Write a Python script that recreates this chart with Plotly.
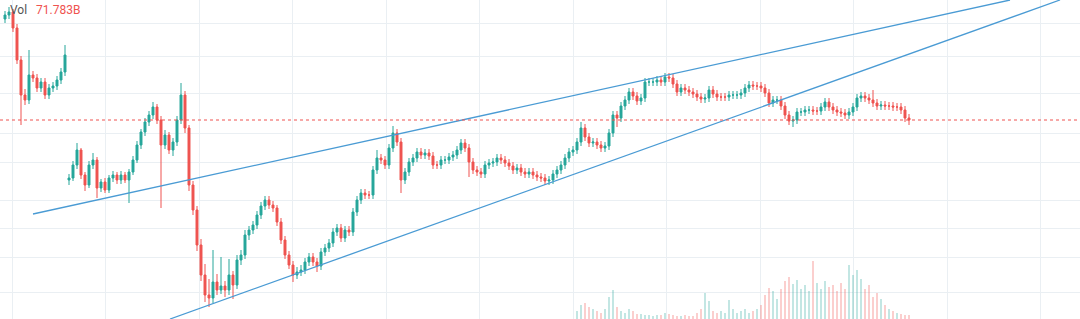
import plotly.graph_objects as go

# ---------------- data ----------------
# closes of every bar (arbitrary price units), bar index 0..226
seg1_close = [304, 307, 291, 259, 224, 219, 244, 241, 231, 237, 224, 231, 233, 239, 247, 264]
seg1_high = [308, 312, 310, 295, 263, 230, 269, 248, 245, 241, 241, 235, 237, 243, 251, 274]
seg1_low = [296, 300, 287, 255, 194, 214, 215, 237, 227, 227, 220, 220, 227, 229, 235, 243]
seg1_first_open = 300

seg2_close = [
    141, 154, 169, 144, 134, 154, 159, 131, 137, 129,
    141, 144, 139, 144, 139, 147, 159, 174, 187, 197,
    204, 212, 199, 174, 184, 169, 177, 199, 224, 191,
    134, 109, 74, 44, 24, 21, 37, 29, 33, 29,
    44, 34, 59, 64, 84, 89, 94, 104, 113, 119,
    114, 111, 97, 79, 64, 54, 44, 47, 49, 57,
    62, 57, 53, 67, 71, 76, 87, 91, 81, 89,
    87, 107, 119, 126, 124, 124, 149, 161, 159, 154,
    171, 186, 177, 139, 147, 157, 161, 167, 164, 166,
    163, 154, 154, 159, 159, 162, 164, 169, 176, 171,
    157, 149, 147, 145, 154, 156, 157, 161, 159, 156,
    153, 149, 151, 147, 145, 147, 144, 142, 141, 138,
    139, 145, 149, 154, 161, 167, 169, 177, 191, 182,
    176, 177, 174, 171, 173, 186, 204, 201, 213, 219,
    227, 223, 218, 221, 237, 237, 237, 239, 237, 242,
    241, 235, 227, 231, 229, 227, 225, 222, 220, 221,
    229, 225, 222, 222, 222, 224, 224, 224, 226, 231,
    234, 233, 233, 231, 226, 216, 219, 219, 213, 204,
    198, 199, 207, 207, 209, 209, 208, 208, 212, 217,
    212, 209, 207, 206, 204, 207, 212, 221, 223, 221,
    219, 216, 213, 214, 213, 213, 212, 212, 209, 201,
    199,
]
seg2_high = [
    145, 158, 176, 171, 147, 158, 166, 162, 140, 141,
    144, 148, 147, 148, 147, 150, 163, 178, 190, 201,
    208, 217, 215, 203, 189, 187, 181, 203, 236, 228,
    194, 138, 113, 80, 55, 40, 69, 45, 62, 38,
    60, 48, 64, 69, 89, 93, 98, 108, 117, 123,
    123, 118, 114, 101, 83, 68, 58, 52, 54, 61,
    66, 66, 61, 71, 75, 80, 91, 95, 95, 93,
    93, 111, 123, 130, 130, 128, 153, 169, 165, 163,
    175, 193, 190, 181, 151, 161, 165, 171, 171, 170,
    170, 167, 158, 163, 163, 166, 168, 173, 180, 180,
    175, 161, 153, 151, 158, 160, 161, 165, 165, 163,
    160, 157, 155, 155, 151, 151, 151, 148, 146, 145,
    143, 149, 153, 158, 165, 171, 173, 181, 197, 195,
    186, 181, 181, 178, 177, 190, 208, 208, 217, 223,
    231, 231, 227, 225, 241, 241, 241, 243, 243, 246,
    246, 245, 239, 235, 235, 233, 231, 229, 226, 225,
    233, 233, 229, 226, 226, 228, 228, 228, 230, 235,
    238, 238, 237, 237, 235, 230, 223, 223, 223, 217,
    208, 203, 211, 211, 213, 213, 213, 212, 216, 221,
    221, 216, 213, 211, 210, 211, 216, 225, 227, 227,
    225, 229, 220, 218, 218, 217, 217, 216, 216, 213,
    205,
]
seg2_low = [
    134, 138, 150, 140, 128, 131, 150, 121, 127, 126,
    126, 137, 135, 135, 136, 116, 144, 156, 170, 183,
    193, 200, 195, 111, 170, 165, 163, 173, 195, 186,
    128, 104, 68, 38, 17, 12, 16, 24, 25, 22,
    24, 20, 30, 54, 60, 79, 85, 90, 100, 109,
    110, 107, 93, 75, 60, 50, 37, 40, 43, 45,
    53, 53, 47, 49, 63, 67, 72, 83, 77, 77,
    83, 83, 103, 115, 120, 120, 120, 145, 155, 150,
    150, 167, 173, 126, 135, 143, 153, 157, 160, 160,
    159, 150, 150, 150, 155, 155, 158, 160, 165, 167,
    142, 145, 143, 141, 141, 150, 152, 153, 155, 152,
    149, 145, 145, 143, 141, 141, 140, 138, 137, 134,
    134, 135, 141, 145, 150, 157, 163, 165, 173, 178,
    172, 172, 170, 167, 167, 169, 182, 192, 197, 209,
    215, 219, 214, 214, 217, 233, 233, 233, 233, 233,
    237, 231, 223, 223, 225, 223, 221, 218, 216, 216,
    217, 221, 218, 218, 218, 218, 220, 220, 220, 222,
    227, 229, 229, 227, 222, 212, 212, 215, 209, 200,
    194, 192, 195, 203, 203, 205, 204, 204, 204, 208,
    208, 205, 203, 202, 200, 200, 203, 208, 217, 217,
    215, 212, 209, 209, 209, 209, 208, 208, 205, 197,
    194,
]
seg2_first_open = 139

# volume of the last bars (arbitrary units)
volume_tail = [
    8, 14, 16, 12, 10, 8, 6, 10, 22, 29,
    12, 8, 6, 10, 8, 5, 5, 4, 4, 3,
    4, 4, 6, 5, 4, 3, 3, 4, 3, 3,
    6, 10, 26, 18, 8, 6, 8, 6, 19, 10,
    6, 8, 10, 6, 8, 10, 14, 24, 31, 28,
    20, 30, 38, 42, 35, 39, 30, 34, 28, 58,
    36, 30, 38, 32, 34, 28, 36, 30, 54, 44,
    49, 40, 30, 34, 22, 26, 20, 14, 10, 8,
    6, 5, 4, 4,
]

vol_label = "Vol"
vol_value = "71.783B"

# hand-drawn trend lines: (bar index, price) anchors
upper_line = [(7.0, 105.0), (251.25, 319.0)]
lower_line = [(41.25, 0.0), (263.75, 319.0)]

# price gridline levels
grid_prices = [296, 263, 226, 186, 157, 119, 91, 62, 27]

# ---------------- build ----------------
UP = "#26a69a"
DOWN = "#ef5350"

seg1_x = list(range(len(seg1_close)))
seg1_open = [seg1_first_open] + seg1_close[:-1]
seg2_x = list(range(len(seg1_close), len(seg1_close) + len(seg2_close)))
seg2_open = [seg2_first_open] + seg2_close[:-1]

fig = go.Figure()

n_tail = len(volume_tail)
vol_x = seg2_x[-n_tail:]
vol_colors = [
    "rgba(38,166,154,0.28)" if c >= o else "rgba(239,83,80,0.28)"
    for o, c in zip(seg2_open[-n_tail:], seg2_close[-n_tail:])
]
fig.add_trace(go.Bar(
    x=vol_x, y=volume_tail, marker=dict(color=vol_colors, line=dict(width=0)),
    width=0.6, yaxis="y2", showlegend=False, hoverinfo="skip",
))

for xs, o, h, l, c in [
    (seg1_x, seg1_open, seg1_high, seg1_low, seg1_close),
    (seg2_x, seg2_open, seg2_high, seg2_low, seg2_close),
]:
    fig.add_trace(go.Candlestick(
        x=xs, open=o, high=h, low=l, close=c,
        increasing=dict(line=dict(color=UP, width=1), fillcolor=UP),
        decreasing=dict(line=dict(color=DOWN, width=1), fillcolor=DOWN),
        whiskerwidth=0, showlegend=False, hoverinfo="skip",
    ))

# trend lines
for (x0, y0), (x1, y1) in [upper_line, lower_line]:
    fig.add_shape(type="line", x0=x0, y0=y0, x1=x1, y1=y1, xref="x", yref="y",
                  line=dict(color="#4a9bd4", width=1.3))

# last price line
fig.add_shape(type="line", x0=0, x1=1, xref="paper", y0=seg2_close[-1], y1=seg2_close[-1],
              yref="y", line=dict(color=DOWN, width=1, dash="dot"))

fig.add_annotation(x=8 / 1080, y=1 - 10 / 319, xref="paper", yref="paper",
                   xanchor="left", yanchor="middle", showarrow=False,
                   text=f"{vol_label}", font=dict(family="Roboto", size=12, color="#555555"))
fig.add_annotation(x=34 / 1080, y=1 - 10 / 319, xref="paper", yref="paper",
                   xanchor="left", yanchor="middle", showarrow=False,
                   text=f"{vol_value}", font=dict(family="Roboto", size=12, color=DOWN))

fig.update_layout(
    width=1080, height=319,
    margin=dict(l=0, r=0, t=0, b=0),
    paper_bgcolor="white", plot_bgcolor="white",
    xaxis=dict(range=[-1.25, 268.75], rangeslider=dict(visible=False),
               showticklabels=False, ticks="", zeroline=False,
               showgrid=True, gridcolor="#eaeff3", gridwidth=1,
               tickmode="linear", tick0=1.75, dtick=23.375),
    yaxis=dict(range=[0, 319], showticklabels=False, ticks="", zeroline=False,
               showgrid=True, gridcolor="#eaeff3", gridwidth=1,
               tickmode="array", tickvals=grid_prices),
    yaxis2=dict(range=[0, 319], overlaying="y", visible=False),
    bargap=0,
)

fig.write_html("out.html")
